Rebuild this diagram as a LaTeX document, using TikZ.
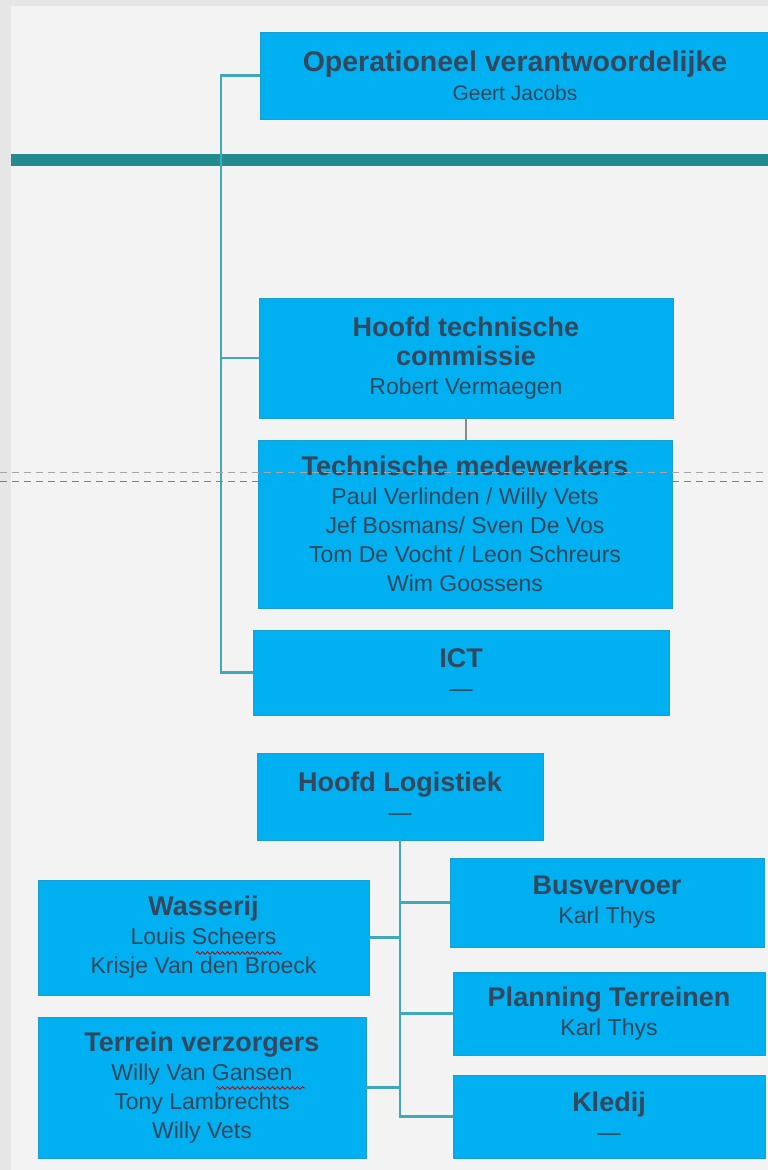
\documentclass[tikz,border=0pt]{standalone}
\usepackage{fontspec}
\setmainfont{Liberation Sans}
\usetikzlibrary{decorations.pathmorphing}
\definecolor{unitblue}{HTML}{00B0F0}
\definecolor{unitedge}{HTML}{1A9FD3}
\definecolor{unittext}{HTML}{34475C}
\definecolor{linkteal}{HTML}{3FA9BA}
\definecolor{linkgray}{HTML}{7E8E92}
\definecolor{barteal}{HTML}{238A8F}
\definecolor{pagegray}{HTML}{E6E6E6}
\definecolor{pagelight}{HTML}{F3F3F3}
\newcommand{\unittitle}[1]{{\fontsize{27}{31}\selectfont\bfseries #1}}

\begin{document}
\begin{tikzpicture}[x=1pt,y=-1pt,
		unit/.style={fill=unitblue,draw=unitedge,line width=0.8pt,text=unittext,
			align=center,inner sep=0pt,font=\fontsize{23}{29}\selectfont},
		link/.style={draw=linkteal,line width=2.2pt},
		cut/.style={line width=1pt,dash pattern=on 7pt off 5pt},
		spell/.style={draw=red!75!black,line width=0.8pt,decorate,
			decoration={snake,amplitude=1.3pt,segment length=5pt}}]
		% page
		\useasboundingbox (0,0) rectangle (768,1170);
		\fill[pagegray] (0,0) rectangle (768,1170);
		\fill[pagelight] (11,6) rectangle (768,1170);
		% bar
		\fill[barteal] (11,154) rectangle (768,166);
		% units
		\node[unit,minimum width=510pt,minimum height=87pt] (oper) at (515,75.5)
		{{\fontsize{28.5}{31}\selectfont\bfseries Operationeel verantwoordelijke}\\
			{\fontsize{21}{29}\selectfont Geert Jacobs}};
		\node[unit,minimum width=414pt,minimum height=120pt] (hoofdtech) at (466,358)
		{\unittitle{Hoofd technische}\\\unittitle{commissie}\\Robert Vermaegen};
		\node[unit,minimum width=414pt,minimum height=168pt] (techmed) at (465,524)
		{\unittitle{Technische medewerkers}\\Paul Verlinden / Willy Vets\\
			Jef Bosmans/ Sven De Vos\\Tom De Vocht / Leon Schreurs\\Wim Goossens};
		\node[unit,minimum width=416pt,minimum height=85pt] (ict) at (461,672.5)
		{\unittitle{ICT}\\—};
		\node[unit,minimum width=286pt,minimum height=87pt] (logistiek) at (400,796.5)
		{\unittitle{Hoofd Logistiek}\\—};
		\node[unit,minimum width=331pt,minimum height=115pt] (wasserij) at (203.5,937.5)
		{\unittitle{Wasserij}\\Louis Scheers\\Krisje Van den Broeck};
		\node[unit,minimum width=328pt,minimum height=141pt] (terrein) at (202,1087.5)
		{\unittitle{Terrein verzorgers}\\Willy Van Gansen\\Tony Lambrechts\\Willy Vets};
		\node[unit,minimum width=314pt,minimum height=89pt] (bus) at (607,902.5)
		{\unittitle{Busvervoer}\\Karl Thys};
		\node[unit,minimum width=312pt,minimum height=83pt] (planning) at (609,1013.5)
		{\unittitle{Planning Terreinen}\\Karl Thys};
		\node[unit,minimum width=312pt,minimum height=83pt] (kledij) at (609,1116.5)
		{\unittitle{Kledij}\\—};
		% links
		\coordinate (spine) at (221,0);
		\coordinate (logspine) at (400,0);
		\draw[link] (oper.west) -| (spine |- ict.west) -- (ict.west);
		\draw[link] (hoofdtech.west) -- (spine |- hoofdtech.west);
		\draw[link,draw=linkgray] (hoofdtech.south) -- (hoofdtech.south |- techmed.north);
		\draw[link] (logistiek.south) |- (kledij.west);
		\draw[link] (wasserij.east) -- (logspine |- wasserij.east);
		\draw[link] (terrein.east) -- (logspine |- terrein.east);
		\draw[link] (bus.west) -- (logspine |- bus.west);
		\draw[link] (planning.west) -- (logspine |- planning.west);
		% cut
		\draw[cut,draw=gray!70] (0,472) -- (768,472);
		\draw[cut,draw=gray] (0,481) -- (768,481);
		% spelling
		\draw[spell] (196,953) -- (282,953);
		\draw[spell] (216,1088) -- (305,1088);
	\end{tikzpicture}
\end{document}
